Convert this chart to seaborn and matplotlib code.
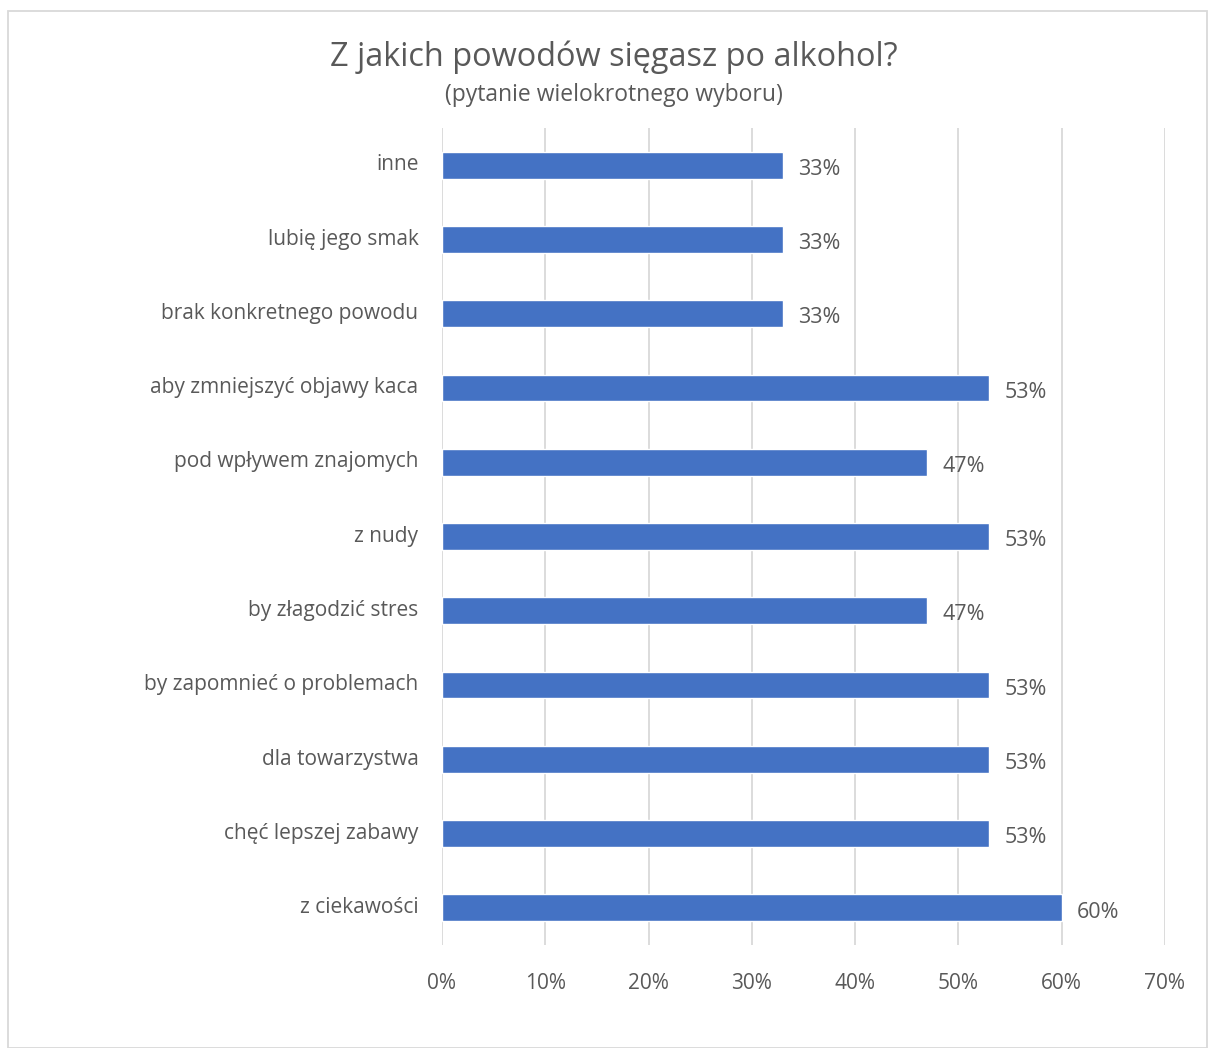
import matplotlib
matplotlib.use("Agg")
import matplotlib.pyplot as plt
import matplotlib.transforms as mtransforms
import seaborn as sns
import pandas as pd
from matplotlib.patches import Rectangle
from matplotlib.ticker import FuncFormatter, MultipleLocator

categories = [
    "inne",
    "lubię jego smak",
    "brak konkretnego powodu",
    "aby zmniejszyć objawy kaca",
    "pod wpływem znajomych",
    "z nudy",
    "by złagodzić stres",
    "by zapomnieć o problemach",
    "dla towarzystwa",
    "chęć lepszej zabawy",
    "z ciekawości",
]
values = [33, 33, 33, 53, 47, 53, 47, 53, 53, 53, 60]

sns.set_theme(style="white")
plt.rcParams["font.family"] = ["Open Sans", "DejaVu Sans"]
TXT = "#595959"

df = pd.DataFrame({"reason": categories, "pct": values})

fig = plt.figure(figsize=(12.08, 10.48), dpi=100)
ax = fig.add_axes([442/1208, 1 - 945/1048, (1165-442)/1208, (945-128)/1048])

sns.barplot(data=df, y="reason", x="pct", orient="h", color="#4472C4",
            saturation=1, width=0.36, ax=ax, order=categories)

ax.set_xlim(0, 70)
ax.set_ylim(10.5, -0.5)
ax.xaxis.set_major_locator(MultipleLocator(10))
ax.xaxis.set_major_formatter(FuncFormatter(lambda v, p: f"{int(v)}%"))
ax.grid(axis="x", color="#D9D9D9", linewidth=1.3)
ax.set_axisbelow(True)
for s in ax.spines.values():
    s.set_visible(False)
ax.set_xlabel("")
ax.set_ylabel("")
ax.tick_params(axis="both", length=0, labelsize=15, colors=TXT)
ax.tick_params(axis="x", pad=20)
ax.tick_params(axis="y", pad=17)
for t in ax.get_yticklabels():
    t.set_transform(t.get_transform() + mtransforms.ScaledTranslation(0, 2/72, fig.dpi_scale_trans))

for c in ax.containers:
    texts = ax.bar_label(c, labels=[f"{v}%" for v in values], padding=11,
                         fontsize=15.5, color=TXT)
    for t in texts:
        t.xyann = (11, -3)

fig.text(614/1208, 1 - 57/1048, "Z jakich powodów sięgasz po alkohol?",
         ha="center", va="center", fontsize=23.4, color=TXT)
fig.text(614/1208, 1 - 95/1048, "(pytanie wielokrotnego wyboru)",
         ha="center", va="center", fontsize=16.5, color=TXT)

fig.patches.append(Rectangle((8/1208, 0), 1 - 8/1208 - 0.0005, 1 - 11/1048,
                             transform=fig.transFigure, fill=False,
                             edgecolor="#D9D9D9", linewidth=1.3))

fig.savefig("out.png", dpi=100)
